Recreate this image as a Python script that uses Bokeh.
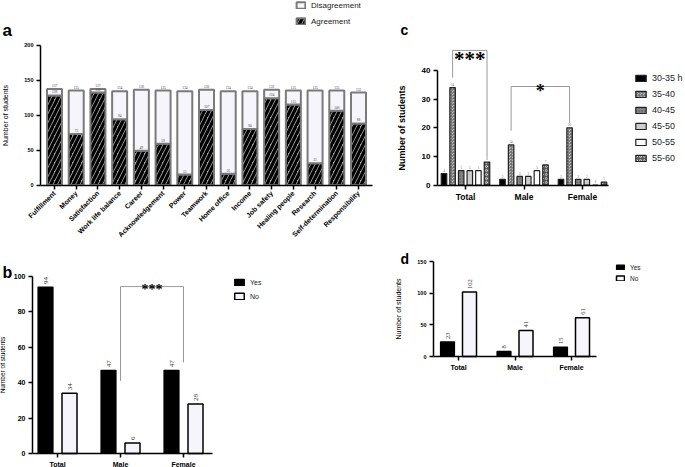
import numpy as np
from bokeh.plotting import figure
from bokeh.models import (Range1d, FixedTicker, Legend, LegendItem, Label,
                          ColumnDataSource)
from bokeh.layouts import column, row
from bokeh.embed import file_html
from bokeh.resources import INLINE
from math import pi

# ---------------- data ----------------
# Panel a
items_a = ["Fulfillment", "Money", "Satisfaction", "Work life balance", "Career",
           "Acknowledgement", "Power", "Teamwork", "Home office", "Income",
           "Job safety", "Healing people", "Research", "Self-determination",
           "Responsibility"]
agreement_a = [128, 73, 132, 94, 49, 59, 15, 107, 16, 80, 124, 115, 31, 106, 88]
disagreement_a = [9, 62, 5, 40, 87, 76, 119, 29, 118, 54, 12, 20, 104, 29, 44]

# Panel b
groups = ["Total", "Male", "Female"]
yes_b = [94, 47, 47]
no_b = [34, 6, 28]

# Panel c
hour_labels = ["30-35 h", "35-40", "40-45", "45-50", "50-55", "55-60"]
h30_35 = [4, 2, 2]
h35_40 = [34, 14, 20]
h40_45 = [5, 3, 2]
h45_50 = [5, 3, 2]
h50_55 = [5, 5, 0]
h55_60 = [8, 7, 1]

# Panel d
yes_d = [23, 8, 15]
no_d = [102, 41, 61]

FONT = "Liberation Sans"
LIGHT = "#f5f5fb"


class Frame:
    """Maps data values to pixel anchors of a figure whose frame fills it."""

    def __init__(self, ox, oy, W, H, xa, Xa, xb, Xb, ya, Ya, yb, Yb):
        self.ox, self.oy, self.W, self.H = ox, oy, W, H
        self.sx = (Xb - Xa) / (xb - xa)
        self.xa, self.Xa = xa, Xa
        x0 = xa - (Xa - ox) / self.sx
        self.xr = Range1d(x0, x0 + W / self.sx)
        self.sy = (Ya - Yb) / (yb - ya)
        self.ya, self.Ya = ya, Ya
        y0 = ya - (oy + H - Ya) / self.sy
        self.yr = Range1d(y0, y0 + H / self.sy)

    def x(self, X):
        return self.xa + (X - self.Xa) / self.sx

    def dx(self, px):
        return px / self.sx

    def loc(self, X, Y):
        # screen position relative to frame bottom-left
        return (X - self.ox, self.oy + self.H - Y)


def make_fig(fr):
    p = figure(width=fr.W, height=fr.H, x_range=fr.xr, y_range=fr.yr,
               output_backend="svg", toolbar_location=None,
               min_border_left=0, min_border_right=0, min_border_top=0,
               min_border_bottom=0)
    p.xgrid.visible = False
    p.ygrid.visible = False
    p.outline_line_color = None
    p.background_fill_color = None
    p.border_fill_color = None
    return p


def style(p, fr, yaxis_X, xaxis_X_end, ymax, yticks, xticks, tick_size, cat_size,
          ylabel_size, ylabel_bold=False, standoff=10):
    for ax in (p.xaxis[0], p.yaxis[0]):
        ax.axis_line_width = 1.5
        ax.axis_line_color = "black"
        ax.major_tick_line_width = 1.5
        ax.major_tick_line_color = "black"
        ax.major_tick_out = 4
        ax.major_tick_in = 0
        ax.minor_tick_line_color = None
        ax.major_label_text_font = FONT
        ax.major_label_text_font_style = "bold"
        ax.major_label_text_color = "black"
        ax.major_label_standoff = 3
    p.yaxis.fixed_location = fr.x(yaxis_X)
    p.yaxis.bounds = (0, ymax)
    p.yaxis.ticker = FixedTicker(ticks=yticks)
    p.xaxis.fixed_location = 0
    p.xaxis.bounds = (fr.x(yaxis_X), fr.x(xaxis_X_end))
    p.xaxis.ticker = FixedTicker(ticks=list(xticks[0]))
    p.xaxis.major_label_overrides = {int(i): g for i, g in zip(*xticks)}
    p.yaxis[0].major_label_text_font_size = tick_size
    p.xaxis[0].major_label_text_font_size = cat_size
    p.yaxis[0].axis_label = "Number of students"
    p.yaxis[0].axis_label_text_font = FONT
    p.yaxis[0].axis_label_text_font_size = ylabel_size
    p.yaxis[0].axis_label_text_font_style = "bold" if ylabel_bold else "normal"
    p.yaxis[0].axis_label_text_color = "black"
    p.yaxis[0].axis_label_standoff = standoff


def letter(p, fr, txt, X, Y, size):
    x, y = fr.loc(X, Y)
    p.add_layout(Label(x=x, y=y, x_units="screen", y_units="screen", text=txt,
                       text_font=FONT, text_font_style="bold",
                       text_font_size=size, text_baseline="alphabetic",
                       text_color="black"))


def legend(p, fr, items, X, Ybottom, gw, gh, lh, sp, fs):
    lg = Legend(items=items, location=fr.loc(X, Ybottom), orientation="vertical",
                glyph_width=gw, glyph_height=gh, label_height=lh, spacing=sp,
                padding=0, margin=0, border_line_color=None,
                background_fill_alpha=0, label_text_font=FONT,
                label_text_font_size=fs, label_text_color="#222222",
                label_standoff=5)
    p.add_layout(lg)


# ---------------- panel a ----------------
xa_idx = np.arange(len(items_a))
fa = Frame(0, 0, 392, 245, 0, 54, 14, 358, 0, 184.5, 200, 44.5)
pa = make_fig(fa)
total_a = [a + d for a, d in zip(agreement_a, disagreement_a)]
src_a = ColumnDataSource(dict(x=xa_idx, agree=agreement_a, total=total_a,
                              agree_s=[str(v) for v in agreement_a],
                              total_s=[str(v) for v in total_a]))
r_agree = pa.vbar(x="x", top="agree", bottom=0, width=fa.dx(15), source=src_a,
                  fill_color="#a2a2a2", line_color="#7a7a7a", line_width=2,
                  hatch_pattern="/", hatch_color="black", hatch_weight=3.2,
                  hatch_scale=9)
r_dis = pa.vbar(x="x", top="total", bottom="agree", width=fa.dx(15), source=src_a,
                fill_color=LIGHT, line_color="#7a7a7a", line_width=2)
pa.text(x="x", y="total", text="total_s", source=src_a, text_font=FONT,
        text_font_size="3.5px", text_align="center", text_baseline="bottom",
        y_offset=-2, text_color="#444444")
pa.text(x="x", y="agree", text="agree_s", source=src_a, text_font=FONT,
        text_font_size="3.5px", text_align="center", text_baseline="bottom",
        y_offset=-2, text_color="#444444")
style(pa, fa, 40, 372, 200, [0, 50, 100, 150, 200], (xa_idx, items_a),
      "5.5px", "7px", "7px", standoff=12)
pa.xaxis.major_label_orientation = pi / 4
legend(pa, fa, [LegendItem(label="Disagreement", renderers=[r_dis]),
                LegendItem(label="Agreement", renderers=[r_agree])],
       295, 26, 11, 8, 10, 6, "8px")
letter(pa, fa, "a", 2, 30, "17px")

# ---------------- panel c ----------------
xg = np.arange(len(groups))
fc = Frame(392, 0, 293, 245, 0, 465, 2, 582, 0, 184.5, 40, 70)
pc = make_fig(fc)
styles_c = [
    dict(fill_color="black"),
    dict(fill_color="#b5b5b5", hatch_pattern="criss_cross", hatch_color="#6a6a6a",
         hatch_scale=3, hatch_weight=0.6),
    dict(fill_color="#858585", hatch_pattern="dot", hatch_color="#555555",
         hatch_scale=3, hatch_weight=0.6),
    dict(fill_color="#cdcdcd"),
    dict(fill_color="white"),
    dict(fill_color="#5a5a5a", hatch_pattern="ring", hatch_color="#dddddd",
         hatch_scale=4, hatch_weight=0.8),
]
series_c = [h30_35, h35_40, h40_45, h45_50, h50_55, h55_60]
step_c = fc.dx(8.6)
rend_c = []
for i, (vals, st) in enumerate(zip(series_c, styles_c)):
    xs = xg + (i - 2.5) * step_c
    src = ColumnDataSource(dict(x=xs, top=vals, lab=[str(v) for v in vals]))
    r = pc.vbar(x="x", top="top", bottom=0, width=fc.dx(5.5), source=src,
                line_color="#222222", line_width=1.2, **st)
    pc.text(x="x", y="top", text="lab", source=src, text_font=FONT,
            text_font_size="3px", text_align="center", text_baseline="bottom",
            y_offset=-2, text_color="#555555")
    rend_c.append(r)
style(pc, fc, 437, 608, 40, [0, 10, 20, 30, 40], (xg, groups),
      "8px", "8.5px", "9px", ylabel_bold=True, standoff=12)
# significance brackets (annotation positions)
br1_x = [xg[0] + (1 - 2.5) * step_c, xg[0] + (5 - 2.5) * step_c]
pc.line(x=[br1_x[0], br1_x[0], br1_x[1], br1_x[1]], y=[37.5, 47.0, 47.0, 9.8],
        line_color="#9a9a9a", line_width=1)
pc.text(x=[(br1_x[0] + br1_x[1]) / 2], y=[44.0], text=["***"], text_font=FONT,
        text_font_style="bold", text_font_size="21px", text_align="center",
        text_baseline="alphabetic", text_color="black")
br2_x = [xg[1] + (1 - 2.5) * step_c, xg[2] + (1 - 2.5) * step_c]
pc.line(x=[br2_x[0], br2_x[0], br2_x[1], br2_x[1]], y=[19.0, 34.4, 34.4, 21.7],
        line_color="#9a9a9a", line_width=1)
pc.text(x=[(br2_x[0] + br2_x[1]) / 2], y=[33.0], text=["*"], text_font=FONT,
        text_font_style="bold", text_font_size="18px", text_align="center",
        text_baseline="alphabetic", text_color="black")
legend(pc, fc, [LegendItem(label=l, renderers=[r]) for l, r in zip(hour_labels, rend_c)],
       634, 163, 13, 8, 10, 6, "9px")
letter(pc, fc, "c", 400, 29, "14px")

# ---------------- panel b ----------------
fb = Frame(0, 245, 360, 222, 0, 57, 2, 183, 0, 453, 100, 276)
pb = make_fig(fb)
off_b = fb.dx(12)
src_by = ColumnDataSource(dict(x=xg - off_b, top=yes_b, lab=[str(v) for v in yes_b]))
src_bn = ColumnDataSource(dict(x=xg + off_b, top=no_b, lab=[str(v) for v in no_b]))
rb_y = pb.vbar(x="x", top="top", width=fb.dx(15), source=src_by, fill_color="black",
               line_color="black", line_width=1.2)
rb_n = pb.vbar(x="x", top="top", width=fb.dx(15), source=src_bn, fill_color=LIGHT,
               line_color="black", line_width=1.5)
for s in (src_by, src_bn):
    pb.text(x="x", y="top", text="lab", source=s, angle=pi / 2, text_font=FONT,
            text_font_size="7px", text_align="left", text_baseline="middle",
            y_offset=-3, text_color="#333333")
style(pb, fb, 32, 212, 100, [0, 20, 40, 60, 80, 100], (xg, groups),
      "7px", "7px", "6.5px", standoff=5)
pb.line(x=[xg[1], xg[1], xg[2], xg[2]], y=[41.0, 94.3, 94.3, 51.4],
        line_color="#9a9a9a", line_width=1)
pb.text(x=[(xg[1] + xg[2]) / 2], y=[92.5], text=["***"], text_font=FONT,
        text_font_style="bold", text_font_size="14px", text_align="center",
        text_baseline="alphabetic", text_color="black")
legend(pb, fb, [LegendItem(label="Yes", renderers=[rb_y]),
                LegendItem(label="No", renderers=[rb_n])],
       233, 300.5, 12, 8, 9, 5, "7px")
letter(pb, fb, "b", 2, 272, "16px")

# ---------------- panel d ----------------
fd = Frame(360, 245, 325, 222, 0, 458, 2, 571, 0, 356, 150, 261)
pdd = make_fig(fd)
off_d = fd.dx(11)
src_dy = ColumnDataSource(dict(x=xg - off_d, top=yes_d, lab=[str(v) for v in yes_d]))
src_dn = ColumnDataSource(dict(x=xg + off_d, top=no_d, lab=[str(v) for v in no_d]))
rd_y = pdd.vbar(x="x", top="top", width=fd.dx(14), source=src_dy, fill_color="black",
                line_color="black", line_width=1.2)
rd_n = pdd.vbar(x="x", top="top", width=fd.dx(14), source=src_dn, fill_color=LIGHT,
                line_color="black", line_width=1.5)
for s in (src_dy, src_dn):
    pdd.text(x="x", y="top", text="lab", source=s, angle=pi / 2, text_font=FONT,
             text_font_size="6.5px", text_align="left", text_baseline="middle",
             y_offset=-3, text_color="#333333")
style(pdd, fd, 433, 596, 150, [0, 50, 100, 150], (xg, groups),
      "5.5px", "7px", "7px", standoff=12)
legend(pdd, fd, [LegendItem(label="Yes", renderers=[rd_y]),
                 LegendItem(label="No", renderers=[rd_n])],
       615, 282, 10, 6, 8, 3, "6.5px")
letter(pdd, fd, "d", 400, 258, "14px")

layout = column(row(pa, pc), row(pb, pdd))
open("out.html", "w").write(file_html(layout, INLINE))
